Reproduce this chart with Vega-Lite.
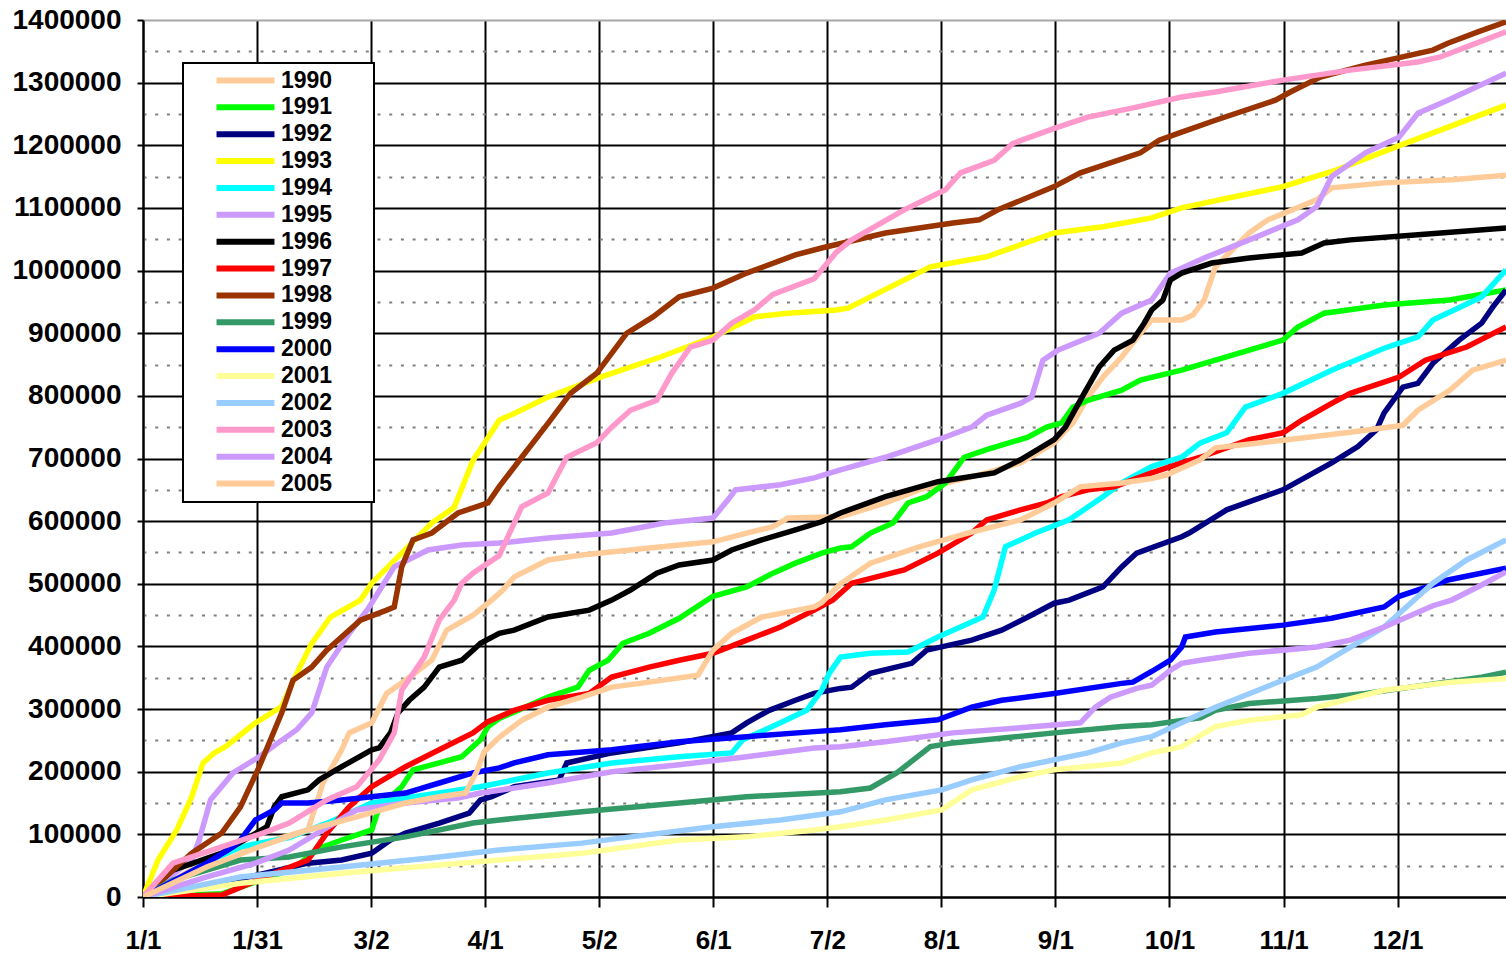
{
"$schema": "https://vega.github.io/schema/vega-lite/v6.json",
"width": 1363, "height": 877,
"autosize": {"type": "none"},
"padding": {"left": 143, "top": 20, "right": 0, "bottom": 58},
"background": "white",
"config": {"view": {"stroke": null}, "font": "Liberation Sans", "legend": {"strokeWidth": 2}},
"datasets": {"raw": [
{"y":"1990","d":0,"v":0},{"y":"1990","d":21,"v":70000},{"y":"1990","d":35,"v":91000},{"y":"1990","d":44,"v":107000},{"y":"1990","d":48,"v":182000},{"y":"1990","d":53,"v":235000},{"y":"1990","d":55,"v":262000},{"y":"1990","d":61,"v":278000},{"y":"1990","d":65,"v":325000},{"y":"1990","d":70,"v":346000},{"y":"1990","d":77,"v":378000},{"y":"1990","d":81,"v":426000},{"y":"1990","d":88,"v":450000},{"y":"1990","d":93,"v":474000},{"y":"1990","d":96,"v":490000},{"y":"1990","d":99,"v":511000},{"y":"1990","d":108,"v":538000},{"y":"1990","d":117,"v":546000},{"y":"1990","d":135,"v":557000},{"y":"1990","d":152,"v":567000},{"y":"1990","d":161,"v":581000},{"y":"1990","d":168,"v":591000},{"y":"1990","d":172,"v":605000},{"y":"1990","d":186,"v":607000},{"y":"1990","d":198,"v":629000},{"y":"1990","d":207,"v":650000},{"y":"1990","d":225,"v":677000},{"y":"1990","d":234,"v":693000},{"y":"1990","d":243,"v":725000},{"y":"1990","d":248,"v":757000},{"y":"1990","d":252,"v":798000},{"y":"1990","d":256,"v":830000},{"y":"1990","d":261,"v":862000},{"y":"1990","d":266,"v":900000},{"y":"1990","d":269,"v":921000},{"y":"1990","d":277,"v":921000},{"y":"1990","d":280,"v":929000},{"y":"1990","d":283,"v":953000},{"y":"1990","d":286,"v":1006000},{"y":"1990","d":295,"v":1060000},{"y":"1990","d":300,"v":1081000},{"y":"1990","d":313,"v":1113000},{"y":"1990","d":317,"v":1132000},{"y":"1990","d":331,"v":1140000},{"y":"1990","d":349,"v":1145000},{"y":"1990","d":363.5,"v":1152000},
{"y":"1991","d":0,"v":0},{"y":"1991","d":21,"v":5000},{"y":"1991","d":40,"v":45000},{"y":"1991","d":47,"v":78000},{"y":"1991","d":53,"v":91000},{"y":"1991","d":61,"v":107000},{"y":"1991","d":63,"v":144000},{"y":"1991","d":69,"v":176000},{"y":"1991","d":72,"v":203000},{"y":"1991","d":79,"v":214000},{"y":"1991","d":85,"v":224000},{"y":"1991","d":90,"v":251000},{"y":"1991","d":92,"v":272000},{"y":"1991","d":95,"v":285000},{"y":"1991","d":108,"v":319000},{"y":"1991","d":116,"v":335000},{"y":"1991","d":119,"v":362000},{"y":"1991","d":124,"v":378000},{"y":"1991","d":128,"v":405000},{"y":"1991","d":135,"v":421000},{"y":"1991","d":143,"v":445000},{"y":"1991","d":152,"v":480000},{"y":"1991","d":161,"v":495000},{"y":"1991","d":168,"v":517000},{"y":"1991","d":174,"v":533000},{"y":"1991","d":181,"v":549000},{"y":"1991","d":186,"v":557000},{"y":"1991","d":189,"v":559000},{"y":"1991","d":194,"v":581000},{"y":"1991","d":200,"v":597000},{"y":"1991","d":204,"v":629000},{"y":"1991","d":209,"v":639000},{"y":"1991","d":214,"v":661000},{"y":"1991","d":219,"v":702000},{"y":"1991","d":225,"v":714000},{"y":"1991","d":236,"v":734000},{"y":"1991","d":241,"v":750000},{"y":"1991","d":245,"v":757000},{"y":"1991","d":248,"v":782000},{"y":"1991","d":252,"v":793000},{"y":"1991","d":261,"v":809000},{"y":"1991","d":266,"v":825000},{"y":"1991","d":277,"v":841000},{"y":"1991","d":286,"v":857000},{"y":"1991","d":304,"v":889000},{"y":"1991","d":308,"v":910000},{"y":"1991","d":315,"v":932000},{"y":"1991","d":331,"v":945000},{"y":"1991","d":348.5,"v":953000},{"y":"1991","d":363.5,"v":969000},
{"y":"1992","d":0,"v":0},{"y":"1992","d":21,"v":22000},{"y":"1992","d":44,"v":54000},{"y":"1992","d":53,"v":59000},{"y":"1992","d":61,"v":70000},{"y":"1992","d":66,"v":91000},{"y":"1992","d":70,"v":102000},{"y":"1992","d":79,"v":118000},{"y":"1992","d":87,"v":134000},{"y":"1992","d":90,"v":155000},{"y":"1992","d":93,"v":160000},{"y":"1992","d":99,"v":176000},{"y":"1992","d":111,"v":187000},{"y":"1992","d":113,"v":214000},{"y":"1992","d":125,"v":230000},{"y":"1992","d":143,"v":246000},{"y":"1992","d":157,"v":262000},{"y":"1992","d":161,"v":278000},{"y":"1992","d":167,"v":298000},{"y":"1992","d":174,"v":314000},{"y":"1992","d":179,"v":325000},{"y":"1992","d":186,"v":333000},{"y":"1992","d":189,"v":335000},{"y":"1992","d":194,"v":357000},{"y":"1992","d":205,"v":373000},{"y":"1992","d":209,"v":394000},{"y":"1992","d":221,"v":410000},{"y":"1992","d":229,"v":426000},{"y":"1992","d":236,"v":447000},{"y":"1992","d":243,"v":469000},{"y":"1992","d":247,"v":474000},{"y":"1992","d":256,"v":495000},{"y":"1992","d":261,"v":527000},{"y":"1992","d":265,"v":549000},{"y":"1992","d":277,"v":575000},{"y":"1992","d":279,"v":581000},{"y":"1992","d":289,"v":618000},{"y":"1992","d":304,"v":650000},{"y":"1992","d":317,"v":693000},{"y":"1992","d":324,"v":719000},{"y":"1992","d":329,"v":746000},{"y":"1992","d":331,"v":773000},{"y":"1992","d":336,"v":814000},{"y":"1992","d":340,"v":820000},{"y":"1992","d":344,"v":852000},{"y":"1992","d":351,"v":889000},{"y":"1992","d":357,"v":916000},{"y":"1992","d":360,"v":942000},{"y":"1992","d":363.5,"v":969000},
{"y":"1993","d":0,"v":0},{"y":"1993","d":4,"v":59000},{"y":"1993","d":9,"v":107000},{"y":"1993","d":13,"v":160000},{"y":"1993","d":16,"v":214000},{"y":"1993","d":19,"v":230000},{"y":"1993","d":22,"v":240000},{"y":"1993","d":30,"v":278000},{"y":"1993","d":37,"v":304000},{"y":"1993","d":41,"v":357000},{"y":"1993","d":45,"v":405000},{"y":"1993","d":50,"v":447000},{"y":"1993","d":58,"v":474000},{"y":"1993","d":61,"v":501000},{"y":"1993","d":77,"v":597000},{"y":"1993","d":83,"v":622000},{"y":"1993","d":88,"v":697000},{"y":"1993","d":91,"v":724000},{"y":"1993","d":95,"v":761000},{"y":"1993","d":99,"v":772000},{"y":"1993","d":108,"v":798000},{"y":"1993","d":122,"v":830000},{"y":"1993","d":138,"v":862000},{"y":"1993","d":152,"v":894000},{"y":"1993","d":163,"v":926000},{"y":"1993","d":172,"v":932000},{"y":"1993","d":185,"v":937000},{"y":"1993","d":188,"v":940000},{"y":"1993","d":196,"v":964000},{"y":"1993","d":210,"v":1006000},{"y":"1993","d":225,"v":1022000},{"y":"1993","d":243,"v":1060000},{"y":"1993","d":256,"v":1070000},{"y":"1993","d":269,"v":1084000},{"y":"1993","d":277,"v":1100000},{"y":"1993","d":304,"v":1134000},{"y":"1993","d":318,"v":1160000},{"y":"1993","d":334,"v":1197000},{"y":"1993","d":363.5,"v":1264000},
{"y":"1994","d":0,"v":0},{"y":"1994","d":10,"v":30000},{"y":"1994","d":17,"v":55000},{"y":"1994","d":26,"v":80000},{"y":"1994","d":39,"v":95000},{"y":"1994","d":50,"v":120000},{"y":"1994","d":61,"v":150000},{"y":"1994","d":79,"v":166000},{"y":"1994","d":90,"v":176000},{"y":"1994","d":108,"v":198000},{"y":"1994","d":125,"v":214000},{"y":"1994","d":143,"v":224000},{"y":"1994","d":157,"v":230000},{"y":"1994","d":160,"v":251000},{"y":"1994","d":170,"v":278000},{"y":"1994","d":177,"v":298000},{"y":"1994","d":181,"v":330000},{"y":"1994","d":183,"v":357000},{"y":"1994","d":186,"v":383000},{"y":"1994","d":194,"v":389000},{"y":"1994","d":204,"v":391000},{"y":"1994","d":212,"v":415000},{"y":"1994","d":224,"v":447000},{"y":"1994","d":227,"v":490000},{"y":"1994","d":230,"v":559000},{"y":"1994","d":238,"v":581000},{"y":"1994","d":247,"v":602000},{"y":"1994","d":256,"v":639000},{"y":"1994","d":261,"v":661000},{"y":"1994","d":269,"v":687000},{"y":"1994","d":277,"v":702000},{"y":"1994","d":282,"v":725000},{"y":"1994","d":289,"v":741000},{"y":"1994","d":294,"v":782000},{"y":"1994","d":304,"v":804000},{"y":"1994","d":317,"v":841000},{"y":"1994","d":331,"v":876000},{"y":"1994","d":340,"v":894000},{"y":"1994","d":344,"v":921000},{"y":"1994","d":357,"v":958000},{"y":"1994","d":363.5,"v":1001000},
{"y":"1995","d":0,"v":0},{"y":"1995","d":13,"v":59000},{"y":"1995","d":15,"v":91000},{"y":"1995","d":18,"v":155000},{"y":"1995","d":24,"v":198000},{"y":"1995","d":31,"v":224000},{"y":"1995","d":36,"v":246000},{"y":"1995","d":41,"v":267000},{"y":"1995","d":45,"v":294000},{"y":"1995","d":49,"v":367000},{"y":"1995","d":55,"v":421000},{"y":"1995","d":60,"v":460000},{"y":"1995","d":67,"v":527000},{"y":"1995","d":76,"v":554000},{"y":"1995","d":85,"v":562000},{"y":"1995","d":95,"v":565000},{"y":"1995","d":108,"v":573000},{"y":"1995","d":125,"v":581000},{"y":"1995","d":139,"v":597000},{"y":"1995","d":152,"v":605000},{"y":"1995","d":156,"v":634000},{"y":"1995","d":158,"v":650000},{"y":"1995","d":170,"v":658000},{"y":"1995","d":179,"v":669000},{"y":"1995","d":186,"v":682000},{"y":"1995","d":198,"v":702000},{"y":"1995","d":212,"v":730000},{"y":"1995","d":221,"v":750000},{"y":"1995","d":225,"v":769000},{"y":"1995","d":234,"v":788000},{"y":"1995","d":237,"v":798000},{"y":"1995","d":240,"v":857000},{"y":"1995","d":244,"v":873000},{"y":"1995","d":255,"v":900000},{"y":"1995","d":261,"v":932000},{"y":"1995","d":269,"v":953000},{"y":"1995","d":274,"v":996000},{"y":"1995","d":283,"v":1020000},{"y":"1995","d":295,"v":1049000},{"y":"1995","d":308,"v":1081000},{"y":"1995","d":313,"v":1102000},{"y":"1995","d":317,"v":1150000},{"y":"1995","d":326,"v":1188000},{"y":"1995","d":335,"v":1213000},{"y":"1995","d":340,"v":1251000},{"y":"1995","d":348,"v":1272000},{"y":"1995","d":363.5,"v":1315000},
{"y":"1996","d":0,"v":0},{"y":"1996","d":8,"v":43000},{"y":"1996","d":21,"v":70000},{"y":"1996","d":33,"v":112000},{"y":"1996","d":35,"v":144000},{"y":"1996","d":37,"v":160000},{"y":"1996","d":44,"v":171000},{"y":"1996","d":47,"v":187000},{"y":"1996","d":53,"v":208000},{"y":"1996","d":61,"v":235000},{"y":"1996","d":63,"v":238000},{"y":"1996","d":66,"v":262000},{"y":"1996","d":68,"v":294000},{"y":"1996","d":71,"v":314000},{"y":"1996","d":75,"v":335000},{"y":"1996","d":79,"v":367000},{"y":"1996","d":85,"v":378000},{"y":"1996","d":88,"v":394000},{"y":"1996","d":90,"v":405000},{"y":"1996","d":95,"v":421000},{"y":"1996","d":99,"v":426000},{"y":"1996","d":108,"v":447000},{"y":"1996","d":119,"v":458000},{"y":"1996","d":125,"v":474000},{"y":"1996","d":130,"v":490000},{"y":"1996","d":137,"v":517000},{"y":"1996","d":143,"v":530000},{"y":"1996","d":152,"v":538000},{"y":"1996","d":157,"v":554000},{"y":"1996","d":165,"v":570000},{"y":"1996","d":174,"v":586000},{"y":"1996","d":181,"v":599000},{"y":"1996","d":186,"v":613000},{"y":"1996","d":198,"v":639000},{"y":"1996","d":212,"v":663000},{"y":"1996","d":227,"v":677000},{"y":"1996","d":234,"v":698000},{"y":"1996","d":243,"v":730000},{"y":"1996","d":246,"v":750000},{"y":"1996","d":251,"v":804000},{"y":"1996","d":255,"v":846000},{"y":"1996","d":259,"v":873000},{"y":"1996","d":264,"v":889000},{"y":"1996","d":267,"v":916000},{"y":"1996","d":269,"v":937000},{"y":"1996","d":272,"v":953000},{"y":"1996","d":274,"v":985000},{"y":"1996","d":277,"v":996000},{"y":"1996","d":285,"v":1012000},{"y":"1996","d":295,"v":1020000},{"y":"1996","d":309,"v":1028000},{"y":"1996","d":315,"v":1044000},{"y":"1996","d":322,"v":1049000},{"y":"1996","d":340,"v":1057000},{"y":"1996","d":363.5,"v":1068000},
{"y":"1997","d":0,"v":0},{"y":"1997","d":21,"v":3000},{"y":"1997","d":35,"v":38000},{"y":"1997","d":44,"v":59000},{"y":"1997","d":49,"v":102000},{"y":"1997","d":55,"v":144000},{"y":"1997","d":61,"v":176000},{"y":"1997","d":70,"v":208000},{"y":"1997","d":79,"v":235000},{"y":"1997","d":88,"v":262000},{"y":"1997","d":92,"v":280000},{"y":"1997","d":99,"v":298000},{"y":"1997","d":108,"v":314000},{"y":"1997","d":119,"v":325000},{"y":"1997","d":125,"v":351000},{"y":"1997","d":135,"v":367000},{"y":"1997","d":143,"v":378000},{"y":"1997","d":152,"v":389000},{"y":"1997","d":161,"v":410000},{"y":"1997","d":170,"v":431000},{"y":"1997","d":179,"v":458000},{"y":"1997","d":184,"v":474000},{"y":"1997","d":189,"v":501000},{"y":"1997","d":203,"v":522000},{"y":"1997","d":212,"v":549000},{"y":"1997","d":221,"v":581000},{"y":"1997","d":225,"v":602000},{"y":"1997","d":234,"v":618000},{"y":"1997","d":241,"v":629000},{"y":"1997","d":245,"v":639000},{"y":"1997","d":252,"v":650000},{"y":"1997","d":259,"v":655000},{"y":"1997","d":269,"v":677000},{"y":"1997","d":277,"v":693000},{"y":"1997","d":282,"v":702000},{"y":"1997","d":295,"v":730000},{"y":"1997","d":304,"v":741000},{"y":"1997","d":309,"v":761000},{"y":"1997","d":317,"v":788000},{"y":"1997","d":322,"v":804000},{"y":"1997","d":335,"v":830000},{"y":"1997","d":342,"v":857000},{"y":"1997","d":353,"v":878000},{"y":"1997","d":363.5,"v":910000},
{"y":"1998","d":0,"v":0},{"y":"1998","d":13,"v":70000},{"y":"1998","d":21,"v":102000},{"y":"1998","d":26,"v":144000},{"y":"1998","d":31,"v":208000},{"y":"1998","d":37,"v":294000},{"y":"1998","d":40,"v":346000},{"y":"1998","d":45,"v":367000},{"y":"1998","d":49,"v":394000},{"y":"1998","d":58,"v":442000},{"y":"1998","d":65,"v":458000},{"y":"1998","d":67,"v":463000},{"y":"1998","d":69,"v":527000},{"y":"1998","d":72,"v":570000},{"y":"1998","d":77,"v":581000},{"y":"1998","d":84,"v":613000},{"y":"1998","d":92,"v":629000},{"y":"1998","d":95,"v":655000},{"y":"1998","d":101,"v":702000},{"y":"1998","d":108,"v":756000},{"y":"1998","d":114,"v":804000},{"y":"1998","d":121,"v":836000},{"y":"1998","d":129,"v":900000},{"y":"1998","d":136,"v":926000},{"y":"1998","d":143,"v":958000},{"y":"1998","d":152,"v":972000},{"y":"1998","d":161,"v":996000},{"y":"1998","d":174,"v":1025000},{"y":"1998","d":181,"v":1036000},{"y":"1998","d":198,"v":1060000},{"y":"1998","d":216,"v":1076000},{"y":"1998","d":223,"v":1081000},{"y":"1998","d":228,"v":1097000},{"y":"1998","d":243,"v":1134000},{"y":"1998","d":250,"v":1156000},{"y":"1998","d":266,"v":1188000},{"y":"1998","d":271,"v":1208000},{"y":"1998","d":277,"v":1221000},{"y":"1998","d":286,"v":1240000},{"y":"1998","d":302,"v":1272000},{"y":"1998","d":306,"v":1285000},{"y":"1998","d":314,"v":1309000},{"y":"1998","d":326,"v":1328000},{"y":"1998","d":344,"v":1352000},{"y":"1998","d":348,"v":1363000},{"y":"1998","d":356,"v":1381000},{"y":"1998","d":363.5,"v":1397000},
{"y":"1999","d":0,"v":0},{"y":"1999","d":8,"v":27000},{"y":"1999","d":17,"v":43000},{"y":"1999","d":26,"v":59000},{"y":"1999","d":39,"v":64000},{"y":"1999","d":53,"v":80000},{"y":"1999","d":70,"v":96000},{"y":"1999","d":88,"v":118000},{"y":"1999","d":95,"v":123000},{"y":"1999","d":117,"v":136000},{"y":"1999","d":143,"v":150000},{"y":"1999","d":161,"v":160000},{"y":"1999","d":186,"v":168000},{"y":"1999","d":194,"v":174000},{"y":"1999","d":201,"v":198000},{"y":"1999","d":210,"v":240000},{"y":"1999","d":216,"v":246000},{"y":"1999","d":243,"v":262000},{"y":"1999","d":261,"v":272000},{"y":"1999","d":269,"v":275000},{"y":"1999","d":277,"v":282000},{"y":"1999","d":282,"v":286000},{"y":"1999","d":286,"v":298000},{"y":"1999","d":295,"v":309000},{"y":"1999","d":313,"v":317000},{"y":"1999","d":326,"v":325000},{"y":"1999","d":357,"v":351000},{"y":"1999","d":363.5,"v":359000},
{"y":"2000","d":0,"v":0},{"y":"2000","d":17,"v":54000},{"y":"2000","d":24,"v":80000},{"y":"2000","d":26,"v":91000},{"y":"2000","d":30,"v":123000},{"y":"2000","d":35,"v":139000},{"y":"2000","d":37,"v":150000},{"y":"2000","d":44,"v":150000},{"y":"2000","d":53,"v":155000},{"y":"2000","d":61,"v":160000},{"y":"2000","d":70,"v":166000},{"y":"2000","d":79,"v":182000},{"y":"2000","d":88,"v":198000},{"y":"2000","d":95,"v":206000},{"y":"2000","d":99,"v":214000},{"y":"2000","d":108,"v":227000},{"y":"2000","d":125,"v":235000},{"y":"2000","d":143,"v":248000},{"y":"2000","d":161,"v":256000},{"y":"2000","d":179,"v":264000},{"y":"2000","d":186,"v":267000},{"y":"2000","d":198,"v":275000},{"y":"2000","d":212,"v":283000},{"y":"2000","d":221,"v":303000},{"y":"2000","d":229,"v":314000},{"y":"2000","d":243,"v":325000},{"y":"2000","d":261,"v":341000},{"y":"2000","d":264,"v":343000},{"y":"2000","d":269,"v":360000},{"y":"2000","d":274,"v":378000},{"y":"2000","d":277,"v":399000},{"y":"2000","d":278,"v":415000},{"y":"2000","d":286,"v":423000},{"y":"2000","d":304,"v":434000},{"y":"2000","d":317,"v":445000},{"y":"2000","d":331,"v":463000},{"y":"2000","d":335,"v":480000},{"y":"2000","d":348,"v":506000},{"y":"2000","d":363.5,"v":525000},
{"y":"2001","d":0,"v":0},{"y":"2001","d":26,"v":22000},{"y":"2001","d":53,"v":38000},{"y":"2001","d":79,"v":51000},{"y":"2001","d":95,"v":59000},{"y":"2001","d":117,"v":70000},{"y":"2001","d":143,"v":91000},{"y":"2001","d":161,"v":96000},{"y":"2001","d":179,"v":107000},{"y":"2001","d":186,"v":112000},{"y":"2001","d":198,"v":123000},{"y":"2001","d":213,"v":139000},{"y":"2001","d":221,"v":171000},{"y":"2001","d":234,"v":192000},{"y":"2001","d":243,"v":203000},{"y":"2001","d":261,"v":214000},{"y":"2001","d":269,"v":230000},{"y":"2001","d":277,"v":240000},{"y":"2001","d":286,"v":272000},{"y":"2001","d":295,"v":282000},{"y":"2001","d":309,"v":291000},{"y":"2001","d":313,"v":303000},{"y":"2001","d":331,"v":330000},{"y":"2001","d":349,"v":343000},{"y":"2001","d":363.5,"v":349000},
{"y":"2002","d":0,"v":0},{"y":"2002","d":26,"v":32000},{"y":"2002","d":53,"v":48000},{"y":"2002","d":79,"v":64000},{"y":"2002","d":95,"v":75000},{"y":"2002","d":117,"v":86000},{"y":"2002","d":130,"v":96000},{"y":"2002","d":152,"v":112000},{"y":"2002","d":170,"v":123000},{"y":"2002","d":186,"v":136000},{"y":"2002","d":198,"v":155000},{"y":"2002","d":213,"v":171000},{"y":"2002","d":221,"v":187000},{"y":"2002","d":234,"v":208000},{"y":"2002","d":252,"v":230000},{"y":"2002","d":261,"v":246000},{"y":"2002","d":269,"v":256000},{"y":"2002","d":277,"v":278000},{"y":"2002","d":286,"v":303000},{"y":"2002","d":304,"v":346000},{"y":"2002","d":313,"v":367000},{"y":"2002","d":322,"v":399000},{"y":"2002","d":331,"v":431000},{"y":"2002","d":339,"v":474000},{"y":"2002","d":344,"v":501000},{"y":"2002","d":353,"v":538000},{"y":"2002","d":363.5,"v":570000},
{"y":"2003","d":0,"v":0},{"y":"2003","d":8,"v":54000},{"y":"2003","d":21,"v":80000},{"y":"2003","d":32,"v":102000},{"y":"2003","d":39,"v":118000},{"y":"2003","d":49,"v":155000},{"y":"2003","d":57,"v":176000},{"y":"2003","d":63,"v":219000},{"y":"2003","d":67,"v":262000},{"y":"2003","d":69,"v":330000},{"y":"2003","d":75,"v":383000},{"y":"2003","d":79,"v":442000},{"y":"2003","d":83,"v":474000},{"y":"2003","d":85,"v":501000},{"y":"2003","d":88,"v":517000},{"y":"2003","d":95,"v":545000},{"y":"2003","d":101,"v":623000},{"y":"2003","d":108,"v":645000},{"y":"2003","d":113,"v":702000},{"y":"2003","d":121,"v":725000},{"y":"2003","d":125,"v":750000},{"y":"2003","d":130,"v":777000},{"y":"2003","d":137,"v":793000},{"y":"2003","d":141,"v":836000},{"y":"2003","d":146,"v":878000},{"y":"2003","d":152,"v":889000},{"y":"2003","d":157,"v":916000},{"y":"2003","d":163,"v":937000},{"y":"2003","d":168,"v":962000},{"y":"2003","d":179,"v":987000},{"y":"2003","d":185,"v":1030000},{"y":"2003","d":189,"v":1049000},{"y":"2003","d":203,"v":1097000},{"y":"2003","d":214,"v":1129000},{"y":"2003","d":218,"v":1156000},{"y":"2003","d":227,"v":1176000},{"y":"2003","d":232,"v":1203000},{"y":"2003","d":243,"v":1227000},{"y":"2003","d":252,"v":1245000},{"y":"2003","d":265,"v":1261000},{"y":"2003","d":277,"v":1277000},{"y":"2003","d":286,"v":1285000},{"y":"2003","d":304,"v":1304000},{"y":"2003","d":322,"v":1320000},{"y":"2003","d":340,"v":1333000},{"y":"2003","d":346,"v":1341000},{"y":"2003","d":353,"v":1357000},{"y":"2003","d":363.5,"v":1381000},
{"y":"2004","d":0,"v":0},{"y":"2004","d":17,"v":32000},{"y":"2004","d":30,"v":54000},{"y":"2004","d":39,"v":75000},{"y":"2004","d":48,"v":107000},{"y":"2004","d":57,"v":139000},{"y":"2004","d":70,"v":150000},{"y":"2004","d":84,"v":158000},{"y":"2004","d":90,"v":166000},{"y":"2004","d":108,"v":182000},{"y":"2004","d":125,"v":200000},{"y":"2004","d":143,"v":211000},{"y":"2004","d":161,"v":224000},{"y":"2004","d":179,"v":238000},{"y":"2004","d":186,"v":240000},{"y":"2004","d":198,"v":248000},{"y":"2004","d":216,"v":262000},{"y":"2004","d":234,"v":270000},{"y":"2004","d":250,"v":278000},{"y":"2004","d":254,"v":303000},{"y":"2004","d":258,"v":319000},{"y":"2004","d":265,"v":333000},{"y":"2004","d":269,"v":338000},{"y":"2004","d":274,"v":362000},{"y":"2004","d":277,"v":373000},{"y":"2004","d":282,"v":378000},{"y":"2004","d":295,"v":389000},{"y":"2004","d":313,"v":399000},{"y":"2004","d":322,"v":410000},{"y":"2004","d":331,"v":431000},{"y":"2004","d":344,"v":465000},{"y":"2004","d":349,"v":474000},{"y":"2004","d":357,"v":498000},{"y":"2004","d":363.5,"v":519000},
{"y":"2005","d":0,"v":0},{"y":"2005","d":17,"v":48000},{"y":"2005","d":31,"v":80000},{"y":"2005","d":44,"v":107000},{"y":"2005","d":57,"v":128000},{"y":"2005","d":70,"v":150000},{"y":"2005","d":79,"v":160000},{"y":"2005","d":86,"v":166000},{"y":"2005","d":89,"v":200000},{"y":"2005","d":91,"v":232000},{"y":"2005","d":95,"v":255000},{"y":"2005","d":101,"v":282000},{"y":"2005","d":108,"v":303000},{"y":"2005","d":117,"v":319000},{"y":"2005","d":125,"v":335000},{"y":"2005","d":135,"v":343000},{"y":"2005","d":148,"v":354000},{"y":"2005","d":152,"v":394000},{"y":"2005","d":157,"v":421000},{"y":"2005","d":165,"v":447000},{"y":"2005","d":179,"v":463000},{"y":"2005","d":181,"v":470000},{"y":"2005","d":186,"v":500000},{"y":"2005","d":194,"v":533000},{"y":"2005","d":207,"v":559000},{"y":"2005","d":220,"v":581000},{"y":"2005","d":234,"v":602000},{"y":"2005","d":243,"v":629000},{"y":"2005","d":250,"v":655000},{"y":"2005","d":261,"v":661000},{"y":"2005","d":269,"v":668000},{"y":"2005","d":273,"v":674000},{"y":"2005","d":282,"v":698000},{"y":"2005","d":286,"v":717000},{"y":"2005","d":304,"v":729000},{"y":"2005","d":322,"v":742000},{"y":"2005","d":336,"v":753000},{"y":"2005","d":340,"v":777000},{"y":"2005","d":348.5,"v":809000},{"y":"2005","d":354.6,"v":841000},{"y":"2005","d":363.5,"v":857000}
]},
"data": {"name": "raw"},
"mark": {"type": "line", "strokeWidth": 5.5, "clip": true},
"encoding": {
"x": {"field": "d", "type": "quantitative", "scale": {"domain": [0, 363.5], "nice": false, "zero": false},
 "axis": {"values": [0,30.4167,60.8333,91.25,121.6667,152.0833,182.5,212.9167,243.3333,273.75,304.1667,334.5833],
 "labelExpr": "['1/1','1/31','3/2','4/1','5/2','6/1','7/2','8/1','9/1','10/1','11/1','12/1'][round(datum.value/30.41667)]",
 "title": null, "grid": true, "gridColor": "black", "gridWidth": 2, "gridOpacity": 1,
 "domainColor": "black", "domainWidth": 2, "tickColor": "black", "tickWidth": 2, "tickSize": 10,
 "labelFontSize": 26, "labelFontWeight": "bold", "labelColor": "black", "labelPadding": 20, "labelFlush": false, "labelOverlap": false}},
"y": {"field": "v", "type": "quantitative", "scale": {"domain": [0, 1400000], "nice": false},
 "axis": {"values": [0,50000,100000,150000,200000,250000,300000,350000,400000,450000,500000,550000,600000,650000,700000,750000,800000,850000,900000,950000,1000000,1050000,1100000,1150000,1200000,1250000,1300000,1350000,1400000],
 "labelExpr": "datum.value % 100000 == 0 ? format(datum.value, 'd') : ''",
 "title": null, "grid": true, "gridWidth": 2, "gridOpacity": 1,
 "gridColor": {"condition": [{"test": "datum.value == 1400000", "value": "#a8a8a8"}, {"test": "datum.value % 100000 != 0", "value": "#808080"}], "value": "black"},
 "gridDash": {"condition": {"test": "datum.value % 100000 != 0", "value": [3, 8.7]}, "value": []},
 "tickOpacity": {"condition": {"test": "datum.value % 100000 != 0", "value": 0}, "value": 1},
 "domainColor": "black", "domainWidth": 2, "tickColor": "black", "tickWidth": 2, "tickSize": 6,
 "labelFontSize": 28, "labelFontWeight": "bold", "labelColor": "black", "labelPadding": 16, "labelOverlap": false, "labelFlush": false}},
"color": {"field": "y", "type": "nominal",
 "scale": {"domain": ["1990","1991","1992","1993","1994","1995","1996","1997","1998","1999","2000","2001","2002","2003","2004","2005"],
  "range": ["#FFCC99","#00FF00","#000080","#FFFF00","#00FFFF","#CC99FF","#000000","#FF0000","#993300","#339966","#0000FF","#FFFF99","#99CCFF","#FF99CC","#CC99FF","#FFCC99"]},
 "legend": {"orient": "none", "legendX": 40, "legendY": 43, "direction": "vertical", "title": null,
  "symbolType": "M-4,0H4M15.2,0", "symbolSize": 210, "symbolStrokeWidth": 6, "symbolOffset": 45, "labelOffset": 24,
  "labelFontSize": 23, "labelFontWeight": "bold", "labelColor": "black", "labelFont": "Liberation Sans",
  "padding": 6, "rowPadding": 1.87, "strokeColor": "black", "fillColor": "white"}}
}
}
